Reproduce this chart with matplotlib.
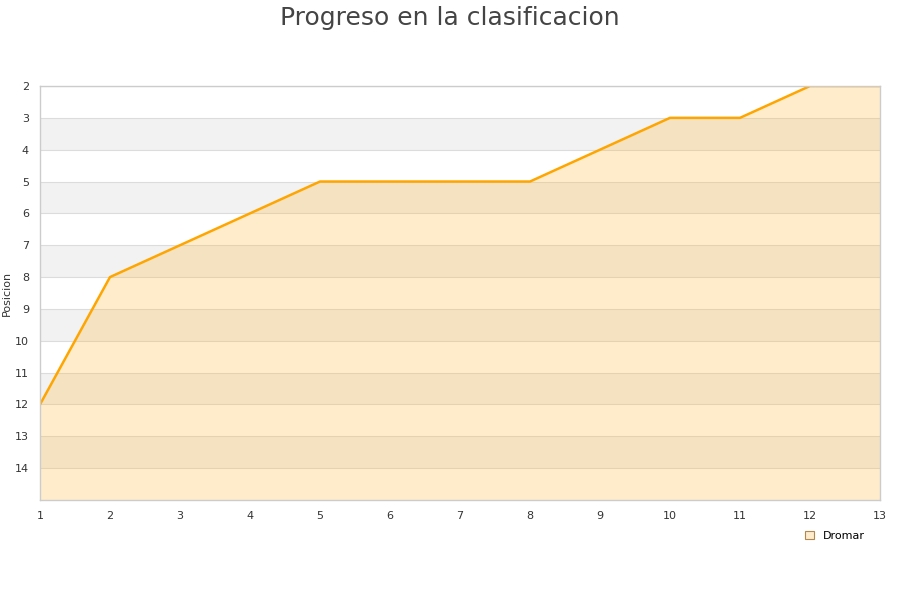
import matplotlib
matplotlib.use("Agg")
import matplotlib.pyplot as plt
from matplotlib.patches import Patch

jornadas = [1, 2, 3, 4, 5, 6, 7, 8, 9, 10, 11, 12, 13]
posicion = [12, 8, 7, 6, 5, 5, 5, 5, 4, 3, 3, 2, 2]
y_ticks = list(range(2, 15))
equipo = "Dromar"

fig = plt.figure(figsize=(9, 6), dpi=100)
ax = fig.add_axes([40 / 900, 100 / 600, 840 / 900, 414 / 600])

y_min, y_max = 2, 15
# alternating horizontal bands
for k in range(y_min, y_max):
    if (k - y_min) % 2 == 1:
        ax.axhspan(k, k + 1, color="#f2f2f2", zorder=0, lw=0)
    ax.axhline(k, color="#dcdcdc", lw=0.8, zorder=1)

ax.fill_between(jornadas, posicion, y_max, color="#ffb121", alpha=0.23,
                lw=0, zorder=2)
ax.plot(jornadas, posicion, color="#ffa500", lw=1.8, zorder=3)

ax.set_xlim(1, 13)
ax.set_ylim(y_max, y_min)
ax.set_xticks(jornadas)
ax.set_yticks(y_ticks)
ax.tick_params(axis="both", length=0, labelsize=8, colors="#333333")
ax.tick_params(axis="x", pad=8)
ax.tick_params(axis="y", pad=8)
for s in ax.spines.values():
    s.set_color("#cccccc")
    s.set_linewidth(1)
    s.set_zorder(4)

ax.set_ylabel("Posicion", fontsize=8, color="#333333", labelpad=2)
fig.suptitle("Progreso en la clasificacion", fontsize=18, color="#444444", y=0.99)

handle = Patch(facecolor="#ffeccc", edgecolor="#b08850", lw=0.8, label=equipo)
fig.legend(handles=[handle], loc="center", bbox_to_anchor=(835 / 900, 1 - 536 / 600),
           frameon=False, fontsize=8, handlelength=0.8, handleheight=0.8,
           handletextpad=0.8)

fig.savefig("out.png", dpi=100)
